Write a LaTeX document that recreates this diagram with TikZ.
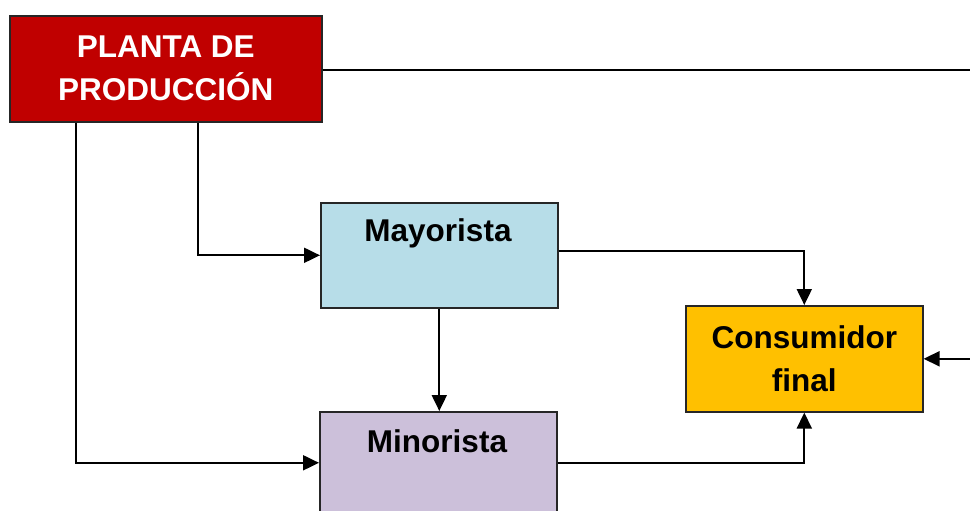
\documentclass[tikz,border=0pt]{standalone}
\usepackage{fontspec}
\setmainfont{Liberation Sans}
\usetikzlibrary{arrows.meta}
\definecolor{plantred}{HTML}{C00000}
\definecolor{mayblue}{HTML}{B7DDE8}
\definecolor{minlilac}{HTML}{CCC0DA}
\definecolor{consgold}{HTML}{FFC000}
\begin{document}
\begin{tikzpicture}[x=1pt,y=-1pt,
  box/.style={draw=black!85, line width=1.6pt, inner sep=0pt, anchor=north west},
  lbl/.style={font=\fontsize{31.5}{43}\selectfont\bfseries, align=center, inner sep=0pt},
  conn/.style={line width=2pt, black},
  arr/.style={conn, -{Triangle[length=16pt,width=15pt]}}]
\useasboundingbox (0,0) rectangle (970,511);
\clip (0,0) rectangle (970,511);
% boxes
\node[box, fill=plantred, minimum width=312pt, minimum height=106pt] (plant) at (9,15) {};
\node[box, fill=mayblue, minimum width=237pt, minimum height=105pt] (mayo) at (320,202) {};
\node[box, fill=minlilac, minimum width=237pt, minimum height=106pt] (mino) at (319,411) {};
\node[box, fill=consgold, minimum width=237pt, minimum height=106pt] (cons) at (685,305) {};
% labels
\node[lbl, text=white] (plantlbl) at (plant.center) {PLANTA DE\\PRODUCCIÓN};
\node[lbl] (mayolbl) at (438,233) {Mayorista};
\node[lbl] (minolbl) at (437,441) {Minorista};
\node[lbl] (conslbl) at (cons.center) {Consumidor\\final};
% connectors
\coordinate (rt) at (995,70);
\draw[arr] (plant.east |- rt) -- (rt) |- (cons.east);
\draw[arr] ([xshift=67pt]plant.south west) |- ([yshift=2pt]mino.west);
\draw[arr] ([xshift=189pt]plant.south west) |- (mayo.west);
\draw[arr] (mayo.south) -- (mayo.south |- mino.north);
\draw[arr] ([yshift=4pt]mayo.east) -| (cons.north);
\draw[arr] ([yshift=2pt]mino.east) -| (cons.south);
\end{tikzpicture}
\end{document}
